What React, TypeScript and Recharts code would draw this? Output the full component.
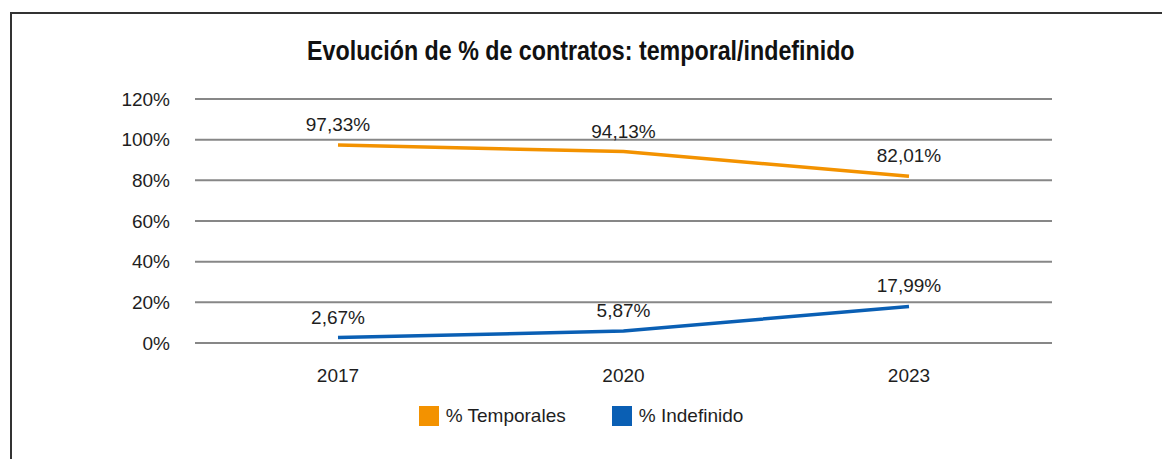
import { LineChart, Line, XAxis, YAxis, CartesianGrid, Legend, LabelList } from 'recharts'

const years = ['2017', '2020', '2023']
const temporales = [97.33, 94.13, 82.01]
const indefinido = [2.67, 5.87, 17.99]
const yTicks = [0, 20, 40, 60, 80, 100, 120]

const data = years.map((year, i) => ({ year, temporales: temporales[i], indefinido: indefinido[i] }))

const FONT = '"Liberation Sans Narrow", "Liberation Sans", Arial, sans-serif'
const ORANGE = '#f39200'
const BLUE = '#0a5fb4'
const TEXT = '#1e1e1e'
const FS = 19

const series = [
  { key: 'temporales', name: '% Temporales', color: ORANGE },
  { key: 'indefinido', name: '% Indefinido', color: BLUE },
]

const pct = (v: any) => Number(v).toFixed(2).replace('.', ',') + '%'

// legend keeps the series order (recharts 3 sorts by name otherwise)
function ChartLegend() {
  return (
    <div style={{ display: 'flex', justifyContent: 'center', gap: 46, height: 24, alignItems: 'center' }}>
      {series.map(s => (
        <div key={s.key} style={{ display: 'flex', alignItems: 'center', gap: 7 }}>
          <span style={{ width: 20, height: 20, background: s.color, display: 'inline-block' }} />
          <span style={{ fontFamily: FONT, fontSize: FS, color: TEXT, lineHeight: '24px' }}>{s.name}</span>
        </div>
      ))}
    </div>
  )
}

export default function App() {
  const tick = { fill: TEXT, fontSize: FS, fontFamily: FONT }
  return (
    <div style={{ position: 'absolute', left: 0, top: 0, width: 1162, height: 459, background: '#fff', overflow: 'hidden' }}>
      <div style={{ position: 'absolute', left: 10, top: 12, width: 1160, height: 460, borderLeft: '2px solid #333', borderTop: '2px solid #333' }} />
      <div style={{ position: 'absolute', left: 0, top: 34, width: 1162, textAlign: 'center' }}>
        <span style={{ display: 'inline-block', transform: 'scaleX(0.83)', fontFamily: FONT, fontWeight: 'bold', fontSize: 28, lineHeight: '34px', color: '#111', whiteSpace: 'nowrap' }}>
          Evolución de % de contratos: temporal/indefinido
        </span>
      </div>
      <LineChart width={1162} height={459} data={data} margin={{ top: 99, right: 110, bottom: 0, left: 0 }}>
        <CartesianGrid vertical={false} stroke="#878787" strokeWidth={2} />
        <XAxis dataKey="year" padding={{ left: 143, right: 143 }} axisLine={false} tickLine={false} tickSize={0} tickMargin={26} height={92} tick={tick} />
        <YAxis domain={[0, 120]} ticks={yTicks} tickFormatter={v => `${v}%`} width={195} axisLine={false} tickLine={false} tickSize={0} tickMargin={25} tick={tick} />
        <Legend content={<ChartLegend />} wrapperStyle={{ left: 0, width: 1162, top: 404, bottom: 'auto' }} />
        {series.map(s => (
          <Line key={s.key} type="linear" dataKey={s.key} name={s.name} stroke={s.color} strokeWidth={3.5} dot={false} isAnimationActive={false}>
            <LabelList dataKey={s.key} position="top" offset={14} formatter={pct} style={{ fill: TEXT, fontSize: FS, fontFamily: FONT }} />
          </Line>
        ))}
      </LineChart>
    </div>
  )
}
